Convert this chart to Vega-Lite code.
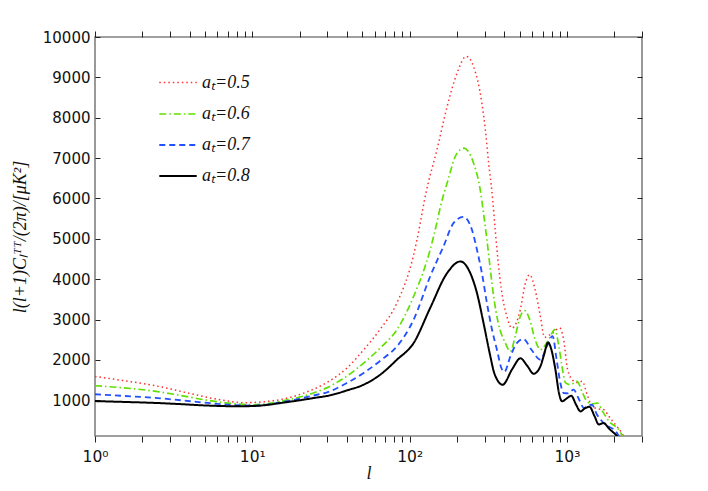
{
  "$schema": "https://vega.github.io/schema/vega-lite/v6.json",
  "width": 547,
  "height": 399,
  "autosize": {"type": "none"},
  "padding": {"left": 95, "top": 37, "right": 66, "bottom": 55},
  "background": "white",
  "config": {
    "view": {"stroke": "#808080", "strokeWidth": 1.6},
    "axis": {
      "domain": false,
      "grid": false,
      "zindex": 1,
      "labelFont": "DejaVu Sans",
      "labelFontSize": 15,
      "labelColor": "#111",
      "tickColor": "#222",
      "tickWidth": 1,
      "titleFont": "Liberation Serif",
      "titleFontStyle": "italic",
      "titleFontWeight": "normal",
      "titleFontSize": 18,
      "titleColor": "#111"
    },
    "legend": {
      "orient": "none",
      "legendX": 63,
      "legendY": 26,
      "padding": 0,
      "symbolType": "stroke",
      "symbolSize": 1400,
      "symbolStrokeWidth": 2,
      "labelFont": "Liberation Serif",
      "labelFontStyle": "italic",
      "labelFontSize": 18,
      "labelColor": "#111",
      "labelOffset": 4,
      "rowPadding": 2
    }
  },
  "data": {
    "values": [
      {"series": "aₜ=0.5", "l": 1, "v": 1590},
      {"series": "aₜ=0.5", "l": 1.5, "v": 1490},
      {"series": "aₜ=0.5", "l": 2.5, "v": 1350},
      {"series": "aₜ=0.5", "l": 4, "v": 1170},
      {"series": "aₜ=0.5", "l": 6.5, "v": 1000},
      {"series": "aₜ=0.5", "l": 8.8, "v": 940},
      {"series": "aₜ=0.5", "l": 13.6, "v": 990},
      {"series": "aₜ=0.5", "l": 22, "v": 1200},
      {"series": "aₜ=0.5", "l": 31, "v": 1480},
      {"series": "aₜ=0.5", "l": 40, "v": 1800},
      {"series": "aₜ=0.5", "l": 51, "v": 2250},
      {"series": "aₜ=0.5", "l": 65, "v": 2760},
      {"series": "aₜ=0.5", "l": 83, "v": 3410},
      {"series": "aₜ=0.5", "l": 106, "v": 4600},
      {"series": "aₜ=0.5", "l": 111, "v": 4950},
      {"series": "aₜ=0.5", "l": 128, "v": 6200},
      {"series": "aₜ=0.5", "l": 149, "v": 7200},
      {"series": "aₜ=0.5", "l": 173, "v": 8270},
      {"series": "aₜ=0.5", "l": 200, "v": 9100},
      {"series": "aₜ=0.5", "l": 229, "v": 9520},
      {"series": "aₜ=0.5", "l": 255, "v": 9265},
      {"series": "aₜ=0.5", "l": 288, "v": 8360},
      {"series": "aₜ=0.5", "l": 303, "v": 7700},
      {"series": "aₜ=0.5", "l": 318, "v": 6870},
      {"series": "aₜ=0.5", "l": 334, "v": 6150},
      {"series": "aₜ=0.5", "l": 350, "v": 5220},
      {"series": "aₜ=0.5", "l": 366, "v": 4400},
      {"series": "aₜ=0.5", "l": 383, "v": 3740},
      {"series": "aₜ=0.5", "l": 415, "v": 3080},
      {"series": "aₜ=0.5", "l": 446, "v": 2790},
      {"series": "aₜ=0.5", "l": 505, "v": 3240},
      {"series": "aₜ=0.5", "l": 540, "v": 3850},
      {"series": "aₜ=0.5", "l": 579, "v": 4110},
      {"series": "aₜ=0.5", "l": 628, "v": 3740},
      {"series": "aₜ=0.5", "l": 678, "v": 3077},
      {"series": "aₜ=0.5", "l": 720, "v": 2560},
      {"series": "aₜ=0.5", "l": 800, "v": 2650},
      {"series": "aₜ=0.5", "l": 900, "v": 2790},
      {"series": "aₜ=0.5", "l": 953, "v": 2500},
      {"series": "aₜ=0.5", "l": 1010, "v": 1760},
      {"series": "aₜ=0.5", "l": 1100, "v": 1480},
      {"series": "aₜ=0.5", "l": 1160, "v": 1440},
      {"series": "aₜ=0.5", "l": 1250, "v": 1470},
      {"series": "aₜ=0.5", "l": 1350, "v": 1120},
      {"series": "aₜ=0.5", "l": 1440, "v": 860},
      {"series": "aₜ=0.5", "l": 1560, "v": 790},
      {"series": "aₜ=0.5", "l": 1710, "v": 770},
      {"series": "aₜ=0.5", "l": 1850, "v": 600},
      {"series": "aₜ=0.5", "l": 1990, "v": 440},
      {"series": "aₜ=0.5", "l": 2230, "v": 190},
      {"series": "aₜ=0.5", "l": 2300, "v": 100},

      {"series": "aₜ=0.6", "l": 1, "v": 1360},
      {"series": "aₜ=0.6", "l": 1.5, "v": 1310},
      {"series": "aₜ=0.6", "l": 2.5, "v": 1215},
      {"series": "aₜ=0.6", "l": 3.5, "v": 1120},
      {"series": "aₜ=0.6", "l": 5, "v": 1010},
      {"series": "aₜ=0.6", "l": 8, "v": 910},
      {"series": "aₜ=0.6", "l": 10, "v": 890},
      {"series": "aₜ=0.6", "l": 17, "v": 1015},
      {"series": "aₜ=0.6", "l": 24, "v": 1170},
      {"series": "aₜ=0.6", "l": 31, "v": 1344},
      {"series": "aₜ=0.6", "l": 40, "v": 1600},
      {"series": "aₜ=0.6", "l": 51, "v": 1923},
      {"series": "aₜ=0.6", "l": 66, "v": 2320},
      {"series": "aₜ=0.6", "l": 83, "v": 2748},
      {"series": "aₜ=0.6", "l": 106, "v": 3573},
      {"series": "aₜ=0.6", "l": 135, "v": 4728},
      {"series": "aₜ=0.6", "l": 149, "v": 5400},
      {"series": "aₜ=0.6", "l": 157, "v": 5800},
      {"series": "aₜ=0.6", "l": 173, "v": 6379},
      {"series": "aₜ=0.6", "l": 200, "v": 7121},
      {"series": "aₜ=0.6", "l": 222, "v": 7245},
      {"series": "aₜ=0.6", "l": 243, "v": 7079},
      {"series": "aₜ=0.6", "l": 255, "v": 6874},
      {"series": "aₜ=0.6", "l": 281, "v": 6213},
      {"series": "aₜ=0.6", "l": 295, "v": 5636},
      {"series": "aₜ=0.6", "l": 310, "v": 4975},
      {"series": "aₜ=0.6", "l": 326, "v": 4233},
      {"series": "aₜ=0.6", "l": 342, "v": 3573},
      {"series": "aₜ=0.6", "l": 366, "v": 2913},
      {"series": "aₜ=0.6", "l": 406, "v": 2418},
      {"series": "aₜ=0.6", "l": 437, "v": 2210},
      {"series": "aₜ=0.6", "l": 470, "v": 2600},
      {"series": "aₜ=0.6", "l": 505, "v": 3077},
      {"series": "aₜ=0.6", "l": 540, "v": 3220},
      {"series": "aₜ=0.6", "l": 580, "v": 2995},
      {"series": "aₜ=0.6", "l": 628, "v": 2500},
      {"series": "aₜ=0.6", "l": 678, "v": 2252},
      {"series": "aₜ=0.6", "l": 764, "v": 2500},
      {"series": "aₜ=0.6", "l": 838, "v": 2750},
      {"series": "aₜ=0.6", "l": 889, "v": 2330},
      {"series": "aₜ=0.6", "l": 930, "v": 1840},
      {"series": "aₜ=0.6", "l": 980, "v": 1430},
      {"series": "aₜ=0.6", "l": 1050, "v": 1386},
      {"series": "aₜ=0.6", "l": 1160, "v": 1470},
      {"series": "aₜ=0.6", "l": 1250, "v": 1200},
      {"series": "aₜ=0.6", "l": 1340, "v": 975},
      {"series": "aₜ=0.6", "l": 1450, "v": 910},
      {"series": "aₜ=0.6", "l": 1560, "v": 930},
      {"series": "aₜ=0.6", "l": 1700, "v": 700},
      {"series": "aₜ=0.6", "l": 1850, "v": 480},
      {"series": "aₜ=0.6", "l": 2170, "v": 230},
      {"series": "aₜ=0.6", "l": 2250, "v": 110},

      {"series": "aₜ=0.7", "l": 1, "v": 1150},
      {"series": "aₜ=0.7", "l": 1.5, "v": 1110},
      {"series": "aₜ=0.7", "l": 2.5, "v": 1055},
      {"series": "aₜ=0.7", "l": 3.5, "v": 1000},
      {"series": "aₜ=0.7", "l": 5, "v": 940},
      {"series": "aₜ=0.7", "l": 8, "v": 878},
      {"series": "aₜ=0.7", "l": 10, "v": 868},
      {"series": "aₜ=0.7", "l": 17, "v": 985},
      {"series": "aₜ=0.7", "l": 24, "v": 1110},
      {"series": "aₜ=0.7", "l": 31, "v": 1220},
      {"series": "aₜ=0.7", "l": 40, "v": 1430},
      {"series": "aₜ=0.7", "l": 51, "v": 1676},
      {"series": "aₜ=0.7", "l": 66, "v": 2000},
      {"series": "aₜ=0.7", "l": 83, "v": 2334},
      {"series": "aₜ=0.7", "l": 106, "v": 2995},
      {"series": "aₜ=0.7", "l": 135, "v": 4067},
      {"series": "aₜ=0.7", "l": 164, "v": 4810},
      {"series": "aₜ=0.7", "l": 190, "v": 5388},
      {"series": "aₜ=0.7", "l": 220, "v": 5545},
      {"series": "aₜ=0.7", "l": 249, "v": 5223},
      {"series": "aₜ=0.7", "l": 268, "v": 4728},
      {"series": "aₜ=0.7", "l": 288, "v": 4150},
      {"series": "aₜ=0.7", "l": 310, "v": 3408},
      {"series": "aₜ=0.7", "l": 334, "v": 2748},
      {"series": "aₜ=0.7", "l": 359, "v": 2252},
      {"series": "aₜ=0.7", "l": 383, "v": 1800},
      {"series": "aₜ=0.7", "l": 400, "v": 1700},
      {"series": "aₜ=0.7", "l": 437, "v": 2087},
      {"series": "aₜ=0.7", "l": 480, "v": 2418},
      {"series": "aₜ=0.7", "l": 530, "v": 2517},
      {"series": "aₜ=0.7", "l": 595, "v": 2252},
      {"series": "aₜ=0.7", "l": 678, "v": 2005},
      {"series": "aₜ=0.7", "l": 745, "v": 2334},
      {"series": "aₜ=0.7", "l": 810, "v": 2590},
      {"series": "aₜ=0.7", "l": 860, "v": 2005},
      {"series": "aₜ=0.7", "l": 908, "v": 1428},
      {"series": "aₜ=0.7", "l": 953, "v": 1180},
      {"series": "aₜ=0.7", "l": 1020, "v": 1170},
      {"series": "aₜ=0.7", "l": 1100, "v": 1262},
      {"series": "aₜ=0.7", "l": 1200, "v": 1000},
      {"series": "aₜ=0.7", "l": 1280, "v": 810},
      {"series": "aₜ=0.7", "l": 1360, "v": 870},
      {"series": "aₜ=0.7", "l": 1440, "v": 891},
      {"series": "aₜ=0.7", "l": 1550, "v": 650},
      {"series": "aₜ=0.7", "l": 1710, "v": 437},
      {"series": "aₜ=0.7", "l": 2080, "v": 190},
      {"series": "aₜ=0.7", "l": 2150, "v": 100},

      {"series": "aₜ=0.8", "l": 1, "v": 980},
      {"series": "aₜ=0.8", "l": 1.5, "v": 960},
      {"series": "aₜ=0.8", "l": 2.5, "v": 932},
      {"series": "aₜ=0.8", "l": 3.5, "v": 905},
      {"series": "aₜ=0.8", "l": 5, "v": 872},
      {"series": "aₜ=0.8", "l": 8, "v": 852},
      {"series": "aₜ=0.8", "l": 10, "v": 857},
      {"series": "aₜ=0.8", "l": 17, "v": 960},
      {"series": "aₜ=0.8", "l": 25, "v": 1060},
      {"series": "aₜ=0.8", "l": 31, "v": 1121},
      {"series": "aₜ=0.8", "l": 40, "v": 1245},
      {"series": "aₜ=0.8", "l": 51, "v": 1386},
      {"series": "aₜ=0.8", "l": 65, "v": 1634},
      {"series": "aₜ=0.8", "l": 83, "v": 2005},
      {"series": "aₜ=0.8", "l": 106, "v": 2418},
      {"series": "aₜ=0.8", "l": 135, "v": 3284},
      {"series": "aₜ=0.8", "l": 173, "v": 4150},
      {"series": "aₜ=0.8", "l": 210, "v": 4439},
      {"series": "aₜ=0.8", "l": 243, "v": 4150},
      {"series": "aₜ=0.8", "l": 268, "v": 3655},
      {"series": "aₜ=0.8", "l": 295, "v": 2913},
      {"series": "aₜ=0.8", "l": 326, "v": 2087},
      {"series": "aₜ=0.8", "l": 345, "v": 1676},
      {"series": "aₜ=0.8", "l": 390, "v": 1386},
      {"series": "aₜ=0.8", "l": 450, "v": 1780},
      {"series": "aₜ=0.8", "l": 506, "v": 2040},
      {"series": "aₜ=0.8", "l": 560, "v": 1850},
      {"series": "aₜ=0.8", "l": 614, "v": 1658},
      {"series": "aₜ=0.8", "l": 678, "v": 1840},
      {"series": "aₜ=0.8", "l": 710, "v": 2087},
      {"series": "aₜ=0.8", "l": 760, "v": 2430},
      {"series": "aₜ=0.8", "l": 785, "v": 2334},
      {"series": "aₜ=0.8", "l": 845, "v": 1757},
      {"series": "aₜ=0.8", "l": 890, "v": 1180},
      {"series": "aₜ=0.8", "l": 930, "v": 973},
      {"series": "aₜ=0.8", "l": 1000, "v": 1050},
      {"series": "aₜ=0.8", "l": 1065, "v": 1114},
      {"series": "aₜ=0.8", "l": 1140, "v": 900},
      {"series": "aₜ=0.8", "l": 1220, "v": 725},
      {"series": "aₜ=0.8", "l": 1300, "v": 800},
      {"series": "aₜ=0.8", "l": 1390, "v": 840},
      {"series": "aₜ=0.8", "l": 1500, "v": 600},
      {"series": "aₜ=0.8", "l": 1595, "v": 400},
      {"series": "aₜ=0.8", "l": 1710, "v": 437},
      {"series": "aₜ=0.8", "l": 1850, "v": 300},
      {"series": "aₜ=0.8", "l": 2040, "v": 150},
      {"series": "aₜ=0.8", "l": 2100, "v": 100}
    ]
  },
  "resolve": {"axis": {"x": "independent", "y": "independent"}},
  "layer": [
    {
      "mark": {"type": "line", "interpolate": "monotone", "clip": true},
      "encoding": {
        "x": {
          "field": "l",
          "type": "quantitative",
          "scale": {"type": "log", "domain": [1, 3000], "nice": false},
          "axis": {
            "orient": "bottom",
            "values": [1, 2, 3, 4, 5, 6, 7, 8, 9, 10, 20, 30, 40, 50, 60, 70, 80, 90, 100, 200, 300, 400, 500, 600, 700, 800, 900, 1000, 2000, 3000],
            "labelExpr": "datum.value == 1 ? '10⁰' : datum.value == 10 ? '10¹' : datum.value == 100 ? '10²' : datum.value == 1000 ? '10³' : ''",
            "labelFontSize": 15.5,
            "labelFlush": false,
            "tickSize": 6,
            "labelPadding": 7,
            "encode": {
              "ticks": {"update": {"y2": {"signal": "(datum.value == 1 || datum.value == 10 || datum.value == 100 || datum.value == 1000) ? -6 : -3"}}}
            },
            "title": "l",
            "titlePadding": 0
          }
        },
        "y": {
          "field": "v",
          "type": "quantitative",
          "scale": {"domain": [115, 10000], "nice": false, "zero": false},
          "axis": {
            "orient": "left",
            "values": [1000, 2000, 3000, 4000, 5000, 6000, 7000, 8000, 9000, 10000],
            "format": "d",
            "offset": -5,
            "tickSize": 5,
            "labelPadding": 5,
            "title": "l(l+1)Cₗᵀᵀ/(2π)/[μK²]",
            "titlePadding": 13
          }
        },
        "color": {
          "field": "series",
          "type": "nominal",
          "scale": {"domain": ["aₜ=0.5", "aₜ=0.6", "aₜ=0.7", "aₜ=0.8"], "range": ["#ff3030", "#5fe000", "#2451ff", "#000000"]},
          "legend": {"title": null}
        },
        "strokeDash": {
          "field": "series",
          "type": "nominal",
          "scale": {"domain": ["aₜ=0.5", "aₜ=0.6", "aₜ=0.7", "aₜ=0.8"], "range": [[1.5, 3], [7, 3, 1.5, 3], [6, 4], [1, 0]]},
          "legend": {"title": null}
        },
        "strokeWidth": {
          "field": "series",
          "type": "nominal",
          "scale": {"domain": ["aₜ=0.5", "aₜ=0.6", "aₜ=0.7", "aₜ=0.8"], "range": [1.5, 2, 2, 2]},
          "legend": null
        }
      }
    },
    {
      "mark": {"type": "point", "opacity": 0},
      "encoding": {
        "x": {
          "field": "l",
          "type": "quantitative",
          "axis": {
            "orient": "top",
            "values": [1, 2, 3, 4, 5, 6, 7, 8, 9, 10, 20, 30, 40, 50, 60, 70, 80, 90, 100, 200, 300, 400, 500, 600, 700, 800, 900, 1000, 2000, 3000],
            "labels": false,
            "tickSize": 6,
            "encode": {
              "ticks": {"update": {"y2": {"signal": "(datum.value == 1 || datum.value == 10 || datum.value == 100 || datum.value == 1000) ? 6 : 3"}}}
            },
            "title": null
          }
        },
        "y": {
          "field": "v",
          "type": "quantitative",
          "axis": {
            "orient": "right",
            "values": [1000, 2000, 3000, 4000, 5000, 6000, 7000, 8000, 9000, 10000],
            "labels": false,
            "offset": -5,
            "tickSize": 5,
            "title": null
          }
        }
      }
    }
  ]
}
